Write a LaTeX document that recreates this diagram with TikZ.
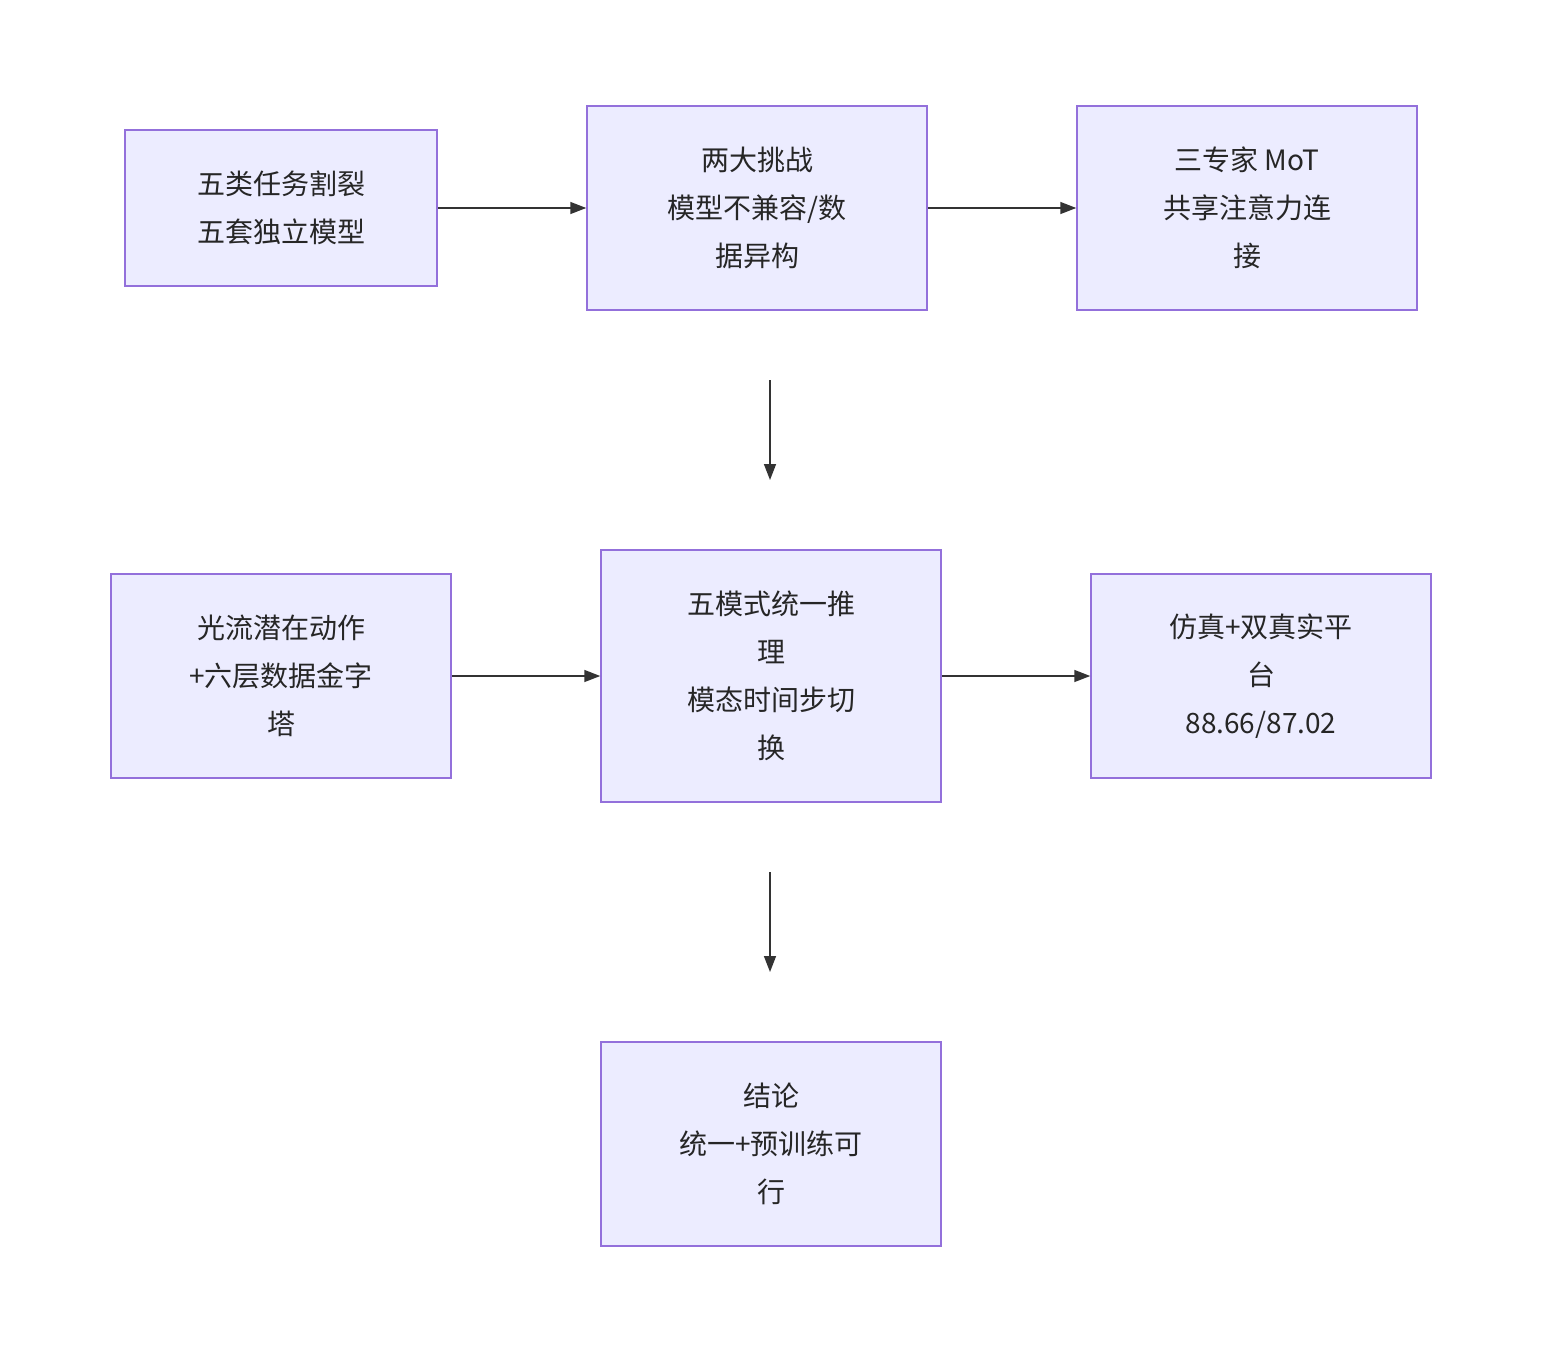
\documentclass[tikz,border=0pt]{standalone}
\usepackage{fontspec}
\setmainfont{Noto Sans CJK SC}
\usetikzlibrary{arrows.meta}
\begin{document}
\begin{tikzpicture}[x=1pt,y=-1pt,
box/.style={draw=violet!55!blue!60,fill=blue!8,line width=1.5pt,align=center,inner sep=0pt,font=\fontsize{28}{48}\selectfont,text=black!85},
arr/.style={draw=black!80,line width=1.5pt,-{Triangle[length=16pt,width=12pt]}}]
\definecolor{bd}{HTML}{9370DB}\definecolor{bf}{HTML}{ECECFF}
\tikzset{box/.append style={draw=bd,fill=bf}}
\useasboundingbox (0,0) rectangle (1542,1352);
\node[box,minimum width=312pt,minimum height=156pt] (a) at (281,208) {五类任务割裂\\五套独立模型};
\node[box,minimum width=340pt,minimum height=204pt] (b) at (757,208) {两大挑战\\模型不兼容/数\\据异构};
\node[box,minimum width=340pt,minimum height=204pt] (c) at (1247,208) {三专家 MoT\\共享注意力连\\接};
\node[box,minimum width=340pt,minimum height=204pt] (d) at (281,676) {光流潜在动作\\+六层数据金字\\塔};
\node[box,minimum width=340pt,minimum height=252pt] (e) at (771,676) {五模式统一推\\理\\模态时间步切\\换};
\node[box,minimum width=340pt,minimum height=204pt] (f) at (1261,676) {仿真+双真实平\\台\\88.66/87.02};
\node[box,minimum width=340pt,minimum height=204pt] (g) at (771,1144) {结论\\统一+预训练可\\行};
\coordinate (p1) at (770,380); \coordinate (p2) at (770,480);
\coordinate (q1) at (770,872); \coordinate (q2) at (770,972);
\draw[arr] (a) -- (b);
\draw[arr] (b) -- (c);
\draw[arr] (p1) -- (p2);
\draw[arr] (d) -- (e);
\draw[arr] (e) -- (f);
\draw[arr] (q1) -- (q2);
\end{tikzpicture}
\end{document}
